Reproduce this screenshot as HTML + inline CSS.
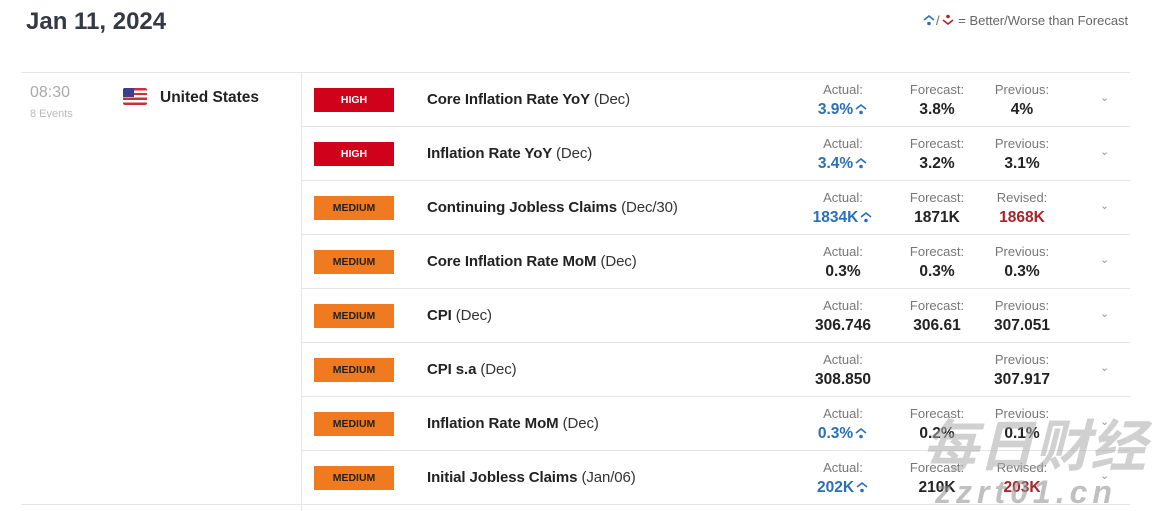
<!DOCTYPE html>
<html><head><meta charset="utf-8"><style>
*{margin:0;padding:0;box-sizing:border-box}
body{width:1172px;height:511px;background:#fff;font-family:"Liberation Sans",Arial,sans-serif;position:relative;overflow:hidden}
.date{position:absolute;left:26px;top:8px;font-size:24px;font-weight:bold;color:#333a45}
.legend{position:absolute;left:921px;top:13px;font-size:13px;color:#666}
.top{position:absolute;left:21px;top:72px;width:1109px;border-top:1px solid #e6e6e6}
.vdiv{position:absolute;left:301px;top:72px;height:439px;border-left:1px solid #e6e6e6}
.lbot{position:absolute;left:21px;top:504px;width:280px;border-top:1px solid #e6e6e6}
.time{position:absolute;left:30px;top:84px;font-size:16px;color:#aaa}
.ev{position:absolute;left:30px;top:108px;font-size:11px;color:#bbb}
.flag{position:absolute;left:123px;top:88px;width:24px;height:17px;border-radius:2px;background:repeating-linear-gradient(#c8313b 0 2.4px,#fff 2.4px 4.8px);overflow:hidden}
.flag i{position:absolute;left:0;top:0;width:11px;height:9px;background:#3c3f8a}
.country{position:absolute;left:160px;top:89px;font-size:15.5px;font-weight:bold;color:#222}
.row{position:absolute;left:302px;width:828px;height:54px;border-bottom:1px solid #e6e6e6}
.badge{position:absolute;left:12px;top:15px;width:80px;height:24px;color:#fff;font-size:10.5px;font-weight:bold;text-align:center;line-height:24px}
.hi{background:#d0021b}.med{background:#f07a20;color:#222}
.name{position:absolute;left:125px;top:18px;font-size:15px;font-weight:bold;color:#222;letter-spacing:-0.1px}
.name span{font-weight:normal;color:#333}
.col{position:absolute;top:9px;width:100px;text-align:center}
.lab{font-size:13px;color:#777;line-height:16px}
.val{font-size:15.5px;font-weight:bold;color:#222;line-height:23px}
.blue{color:#2b6fb7}.red{color:#a8232a}
.chev{position:absolute;left:798px;top:18px;font-size:11px;color:#999}
.ic{display:inline-block;width:14px;height:12px;vertical-align:-1px;margin-left:1px}
.wm{position:absolute;left:922px;top:402px;font-size:56px;font-style:italic;font-weight:bold;color:rgba(170,170,170,.55);font-family:"Noto Sans CJK SC",sans-serif}
.wm2{position:absolute;left:935px;top:474px;font-size:32px;font-weight:bold;font-style:italic;color:rgba(150,150,150,.6);letter-spacing:5px}
</style></head><body>
<svg width="0" height="0" style="position:absolute"><defs>
<symbol id="up" viewBox="0 0 14 12"><path d="M2 6 L7 2 L12 6" fill="none" stroke="currentColor" stroke-width="1.6"/><circle cx="7" cy="9.5" r="1.8" fill="currentColor"/></symbol>
<symbol id="dn" viewBox="0 0 14 12"><path d="M2 6 L7 10 L12 6" fill="none" stroke="currentColor" stroke-width="1.6"/><circle cx="7" cy="2.5" r="1.8" fill="currentColor"/></symbol>
</defs></svg>
<div class="date">Jan 11, 2024</div>
<div class="legend"><svg class="ic" style="color:#2b6fb7"><use href="#up"/></svg>/<svg class="ic" style="color:#b22222"><use href="#dn"/></svg> = Better/Worse than Forecast</div>
<div class="top"></div><div class="vdiv"></div><div class="lbot"></div>
<div class="time">08:30</div><div class="ev">8 Events</div>
<div class="flag"><i></i></div><div class="country">United States</div>

<div class="row" style="top:73px"><div class="badge hi">HIGH</div><div class="name">Core Inflation Rate YoY <span>(Dec)</span></div>
<div class="col" style="left:491px"><div class="lab">Actual:</div><div class="val blue">3.9%<svg class="ic"><use href="#up"/></svg></div></div>
<div class="col" style="left:585px"><div class="lab">Forecast:</div><div class="val">3.8%</div></div>
<div class="col" style="left:670px"><div class="lab">Previous:</div><div class="val">4%</div></div><div class="chev">⌄</div></div>

<div class="row" style="top:127px"><div class="badge hi">HIGH</div><div class="name">Inflation Rate YoY <span>(Dec)</span></div>
<div class="col" style="left:491px"><div class="lab">Actual:</div><div class="val blue">3.4%<svg class="ic"><use href="#up"/></svg></div></div>
<div class="col" style="left:585px"><div class="lab">Forecast:</div><div class="val">3.2%</div></div>
<div class="col" style="left:670px"><div class="lab">Previous:</div><div class="val">3.1%</div></div><div class="chev">⌄</div></div>

<div class="row" style="top:181px"><div class="badge med">MEDIUM</div><div class="name">Continuing Jobless Claims <span>(Dec/30)</span></div>
<div class="col" style="left:491px"><div class="lab">Actual:</div><div class="val blue">1834K<svg class="ic"><use href="#up"/></svg></div></div>
<div class="col" style="left:585px"><div class="lab">Forecast:</div><div class="val">1871K</div></div>
<div class="col" style="left:670px"><div class="lab">Revised:</div><div class="val red">1868K</div></div><div class="chev">⌄</div></div>

<div class="row" style="top:235px"><div class="badge med">MEDIUM</div><div class="name">Core Inflation Rate MoM <span>(Dec)</span></div>
<div class="col" style="left:491px"><div class="lab">Actual:</div><div class="val">0.3%</div></div>
<div class="col" style="left:585px"><div class="lab">Forecast:</div><div class="val">0.3%</div></div>
<div class="col" style="left:670px"><div class="lab">Previous:</div><div class="val">0.3%</div></div><div class="chev">⌄</div></div>

<div class="row" style="top:289px"><div class="badge med">MEDIUM</div><div class="name">CPI <span>(Dec)</span></div>
<div class="col" style="left:491px"><div class="lab">Actual:</div><div class="val">306.746</div></div>
<div class="col" style="left:585px"><div class="lab">Forecast:</div><div class="val">306.61</div></div>
<div class="col" style="left:670px"><div class="lab">Previous:</div><div class="val">307.051</div></div><div class="chev">⌄</div></div>

<div class="row" style="top:343px"><div class="badge med">MEDIUM</div><div class="name">CPI s.a <span>(Dec)</span></div>
<div class="col" style="left:491px"><div class="lab">Actual:</div><div class="val">308.850</div></div>
<div class="col" style="left:670px"><div class="lab">Previous:</div><div class="val">307.917</div></div><div class="chev">⌄</div></div>

<div class="row" style="top:397px"><div class="badge med">MEDIUM</div><div class="name">Inflation Rate MoM <span>(Dec)</span></div>
<div class="col" style="left:491px"><div class="lab">Actual:</div><div class="val blue">0.3%<svg class="ic"><use href="#up"/></svg></div></div>
<div class="col" style="left:585px"><div class="lab">Forecast:</div><div class="val">0.2%</div></div>
<div class="col" style="left:670px"><div class="lab">Previous:</div><div class="val">0.1%</div></div><div class="chev">⌄</div></div>

<div class="row" style="top:451px"><div class="badge med">MEDIUM</div><div class="name">Initial Jobless Claims <span>(Jan/06)</span></div>
<div class="col" style="left:491px"><div class="lab">Actual:</div><div class="val blue">202K<svg class="ic"><use href="#up"/></svg></div></div>
<div class="col" style="left:585px"><div class="lab">Forecast:</div><div class="val">210K</div></div>
<div class="col" style="left:670px"><div class="lab">Revised:</div><div class="val red">203K</div></div><div class="chev">⌄</div></div>

<div class="wm">每日财经</div>
<div class="wm2">zzrt01.cn</div>
</body></html>
